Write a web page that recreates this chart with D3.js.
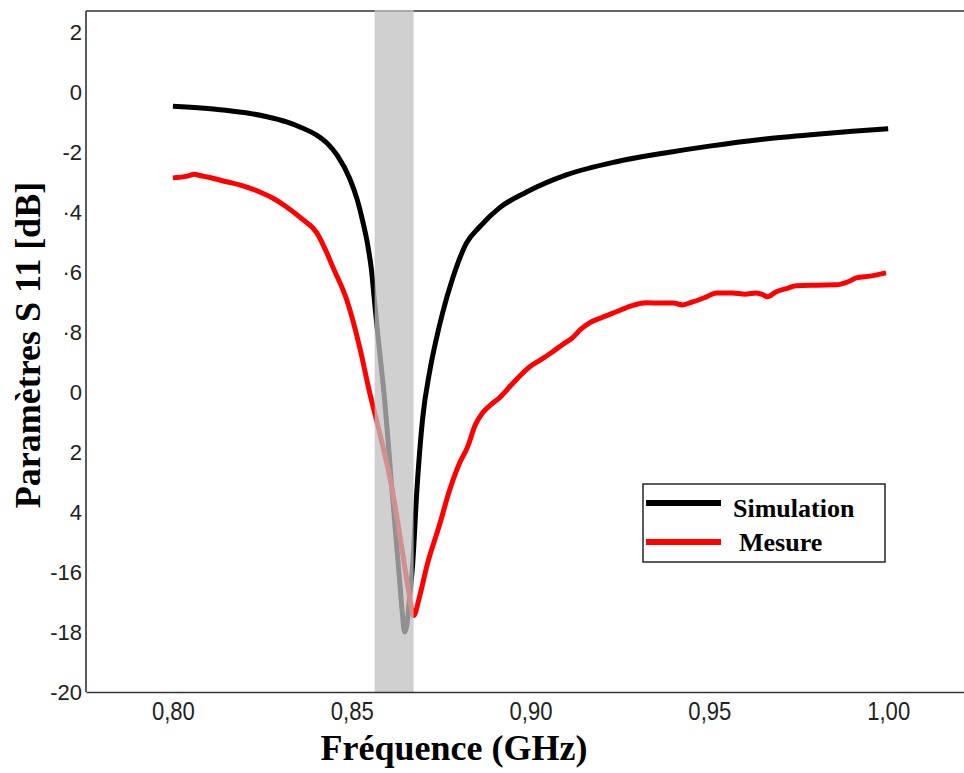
<!DOCTYPE html>
<html><head><meta charset="utf-8">
<script src="https://cdn.jsdelivr.net/npm/d3@7"></script>
<style>body{margin:0;background:#fff}svg{display:block}</style>
</head><body>
<script>
// ---- data ----
const simFreq = [0.800,0.812,0.820,0.8263,0.832,0.8355,0.840,0.843,0.846,0.8494,0.8515,0.8531,0.8545,0.8555,0.8564,0.8575,0.859,0.8615,0.8634,0.8641,0.8648,0.8655,0.8662,0.867,0.8682,0.8698,0.8718,0.8735,0.8754,0.8782,0.8821,0.8858,0.8913,0.8989,0.910,0.924,0.938,0.950,0.965,0.980,0.990,1.000];
const simVal  = [-0.45,-0.55,-0.66,-0.80,-0.98,-1.14,-1.40,-1.67,-2.10,-2.85,-3.55,-4.30,-5.10,-5.90,-7.00,-8.30,-10.0,-13.6,-16.3,-17.3,-18.0,-17.7,-16.8,-15.8,-13.3,-10.9,-9.3,-8.3,-7.35,-6.2,-5.01,-4.47,-3.84,-3.31,-2.74,-2.30,-2.00,-1.78,-1.55,-1.38,-1.28,-1.20];
const mesFreq = [0.800,0.804,0.806,0.8075,0.810,0.815,0.820,0.8243,0.828,0.8318,0.836,0.8402,0.8425,0.8447,0.8486,0.8522,0.855,0.8575,0.8611,0.8639,0.866,0.8673,0.869,0.871,0.8746,0.8774,0.8802,0.8824,0.8845,0.8866,0.889,0.8913,0.895,0.8997,0.903,0.9061,0.909,0.9117,0.914,0.9165,0.920,0.924,0.928,0.9324,0.937,0.940,0.9425,0.9453,0.949,0.952,0.9564,0.960,0.9631,0.965,0.9662,0.9687,0.972,0.9743,0.980,0.9855,0.989,0.9911,0.995,0.9994];
const mesVal  = [-2.84,-2.78,-2.72,-2.76,-2.82,-2.97,-3.12,-3.31,-3.52,-3.81,-4.20,-4.67,-5.20,-5.81,-6.91,-8.48,-10.0,-11.2,-13.1,-15.1,-16.7,-17.45,-16.8,-15.8,-14.4,-13.25,-12.35,-11.82,-11.1,-10.68,-10.40,-10.18,-9.70,-9.15,-8.90,-8.65,-8.40,-8.18,-7.90,-7.68,-7.50,-7.31,-7.12,-7.01,-7.02,-7.02,-7.08,-6.98,-6.82,-6.68,-6.68,-6.72,-6.68,-6.74,-6.81,-6.64,-6.52,-6.44,-6.42,-6.41,-6.30,-6.18,-6.12,-6.01];
const xTickValues = [0.80,0.85,0.90,0.95,1.00];
const xTickLabels = ["0,80","0,85","0,90","0,95","1,00"];
const yTickValues = [2,0,-2,-4,-6,-8,-10,-12,-14,-16,-18,-20];
const yTickLabels = ["2","0","-2","·4","·6","·8","0","2","4","-16","-18","-20"];
const bandRange = [0.8564,0.8673];
const seriesNames = ["Simulation","Mesure"];

// ---- chart ----
const W=964,H=773;
const L=86,R=964,T=11,B=692;
const svg=d3.select("body").append("svg").attr("width",W).attr("height",H);
const x=d3.scaleLinear().domain([0.7757,1.0212]).range([L,R]);
const y=d3.scaleLinear().domain([-20,2.73]).range([B,T]);

// top border
svg.append("line").attr("x1",L).attr("x2",R).attr("y1",T).attr("y2",T).attr("stroke","#333").attr("stroke-width",1.6);

const line=d3.line().curve(d3.curveMonotoneX).x(d=>x(d[0])).y(d=>y(d[1]));
const sim=simFreq.map((f,i)=>[f,simVal[i]]);
const mes=mesFreq.map((f,i)=>[f,mesVal[i]]);
svg.append("path").datum(sim).attr("d",line).attr("fill","none").attr("stroke","#000").attr("stroke-width",5).attr("stroke-linejoin","round");
svg.append("path").datum(mes).attr("d",line).attr("fill","none").attr("stroke","#ff0000").attr("stroke-width",5).attr("stroke-linejoin","round");

// grey band overlay
svg.append("rect").attr("x",x(bandRange[0])).attr("width",x(bandRange[1])-x(bandRange[0]))
  .attr("y",T-1).attr("height",B-T+1).attr("fill","rgb(192,192,192)").attr("fill-opacity",0.75);

// axes
const xAxis=d3.axisBottom(x).tickValues(xTickValues).tickSize(0).tickPadding(10)
  .tickFormat((d,i)=>xTickLabels[i]);
const gx=svg.append("g").attr("transform",`translate(0,${B})`).call(xAxis);
gx.select(".domain").attr("stroke","#333").attr("stroke-width",1.6);
gx.selectAll("text").attr("font-family","'Liberation Sans',Arial,sans-serif")
  .attr("font-size",25).attr("fill","#222").attr("dy","0.72em")
  .attr("textLength",43).attr("lengthAdjust","spacingAndGlyphs");

const yAxis=d3.axisLeft(y).tickValues(yTickValues).tickSize(0).tickPadding(4)
  .tickFormat((d,i)=>yTickLabels[i]);
const gy=svg.append("g").attr("transform",`translate(${L},0)`).call(yAxis);
gy.select(".domain").attr("stroke","#333").attr("stroke-width",1.6).attr("d",`M0,${T}V${B}`);
gy.selectAll("text").attr("font-family","'Liberation Sans',Arial,sans-serif").attr("font-size",22).attr("fill","#222");

// titles
svg.append("text").attr("x",454).attr("y",760).attr("text-anchor","middle")
  .attr("font-family","'Liberation Serif','Times New Roman',serif").attr("font-weight","bold")
  .attr("font-size",36).attr("fill","#000").text("Fréquence (GHz)");
svg.append("text").attr("transform","translate(40,345) rotate(-90)").attr("text-anchor","middle")
  .attr("font-family","'Liberation Serif','Times New Roman',serif").attr("font-weight","bold")
  .attr("font-size",36).attr("fill","#000").text("Paramètres S 11 [dB]");

// legend
const lg=svg.append("g");
lg.append("rect").attr("x",643).attr("y",484).attr("width",242).attr("height",78)
  .attr("fill","#fff").attr("stroke","#333").attr("stroke-width",1.6);
const legendColors=["#000","#ff0000"];
const legendLineY=[503,542];
const legendTextX=[733,739];
const legendTextY=[517,551];
seriesNames.forEach((n,i)=>{
  lg.append("line").attr("x1",646).attr("x2",721).attr("y1",legendLineY[i]).attr("y2",legendLineY[i])
    .attr("stroke",legendColors[i]).attr("stroke-width",6);
  lg.append("text").attr("x",legendTextX[i]).attr("y",legendTextY[i])
    .attr("font-family","'Liberation Serif','Times New Roman',serif").attr("font-weight","bold")
    .attr("font-size",26).attr("fill","#000").text(n);
});
</script>
</body></html>
